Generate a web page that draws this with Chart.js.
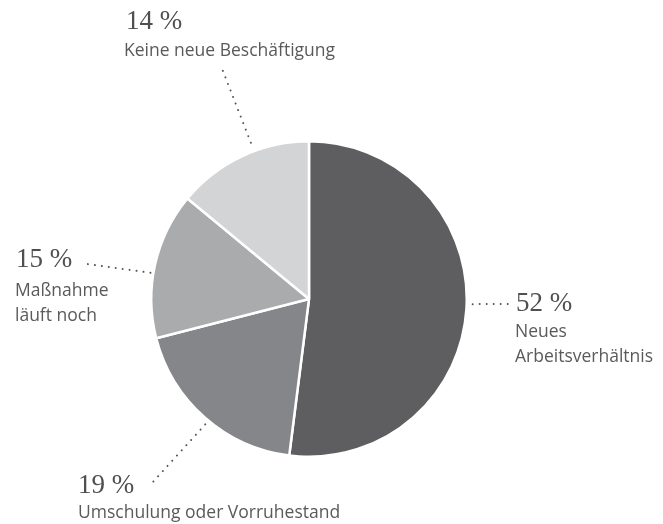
<!DOCTYPE html>
<html>
<head>
<meta charset="utf-8">
<script src="https://cdn.jsdelivr.net/npm/chart.js@4/dist/chart.umd.min.js"></script>
<style>
html,body{margin:0;padding:0;background:#fff;}
#wrap{width:663px;height:524px;position:relative;}
</style>
</head>
<body>
<div id="wrap"><canvas id="c" width="663" height="524"></canvas></div>
<script>
const categories = ["Neues Arbeitsverhältnis", "Umschulung oder Vorruhestand", "Maßnahme läuft noch", "Keine neue Beschäftigung"];
const values = [52, 19, 15, 14];
const valueLabels = ["52 %", "19 %", "15 %", "14 %"];
const labelLines = [["Neues", "Arbeitsverhältnis"], ["Umschulung oder Vorruhestand"], ["Maßnahme", "läuft noch"], ["Keine neue Beschäftigung"]];
const sliceColors = ["#5e5e60", "#858689", "#aaabad", "#d3d4d6"];

// label layout: number anchor (left, baseline), label baselines, leader end point,
// angular nudge (deg) and radial gap of the leader start
const labelLayout = [
  {nx: 516, ny: 311, lines: [337, 362], lx: 515, end: [509, 304], nudge: -1.8, gap: 6},
  {nx: 78,  ny: 493, lines: [518], lx: 78, end: [152, 483], nudge: -1.8, gap: 5},
  {nx: 16,  ny: 267, lines: [296, 321], lx: 15, end: [87, 264], nudge: -3.2, gap: 3},
  {nx: 126, ny: 29,  lines: [56], lx: 124, end: [221, 66], nudge: 4.8, gap: 9}
];

const calloutPlugin = {
  id: 'callouts',
  afterDraw(chart) {
    const ctx = chart.ctx;
    const meta = chart.getDatasetMeta(0);
    meta.data.forEach((arc, i) => {
      const p = arc.getProps(['x', 'y', 'startAngle', 'endAngle', 'outerRadius'], true);
      const L = labelLayout[i];
      const mid = (p.startAngle + p.endAngle) / 2 + L.nudge * Math.PI / 180;
      const r = p.outerRadius + L.gap;
      const sx = p.x + Math.cos(mid) * r;
      const sy = p.y + Math.sin(mid) * r;
      ctx.save();
      ctx.strokeStyle = '#555';
      ctx.lineWidth = 2;
      ctx.lineCap = 'round';
      ctx.setLineDash([0.01, 7]);
      ctx.beginPath();
      ctx.moveTo(sx, sy);
      ctx.lineTo(L.end[0], L.end[1]);
      ctx.stroke();
      ctx.restore();

      ctx.save();
      ctx.textAlign = 'left';
      ctx.textBaseline = 'alphabetic';
      ctx.fillStyle = '#4f4f4f';
      ctx.font = '27px "Liberation Serif", serif';
      ctx.fillText(valueLabels[i], L.nx, L.ny);
      ctx.fillStyle = '#5a5a5a';
      ctx.font = '17.5px "Open Sans", sans-serif';
      labelLines[i].forEach((t, k) => ctx.fillText(t, L.lx, L.lines[k]));
      ctx.restore();
    });
  }
};

new Chart(document.getElementById('c'), {
  type: 'pie',
  data: {
    labels: categories,
    datasets: [{
      data: values,
      backgroundColor: sliceColors,
      borderColor: '#ffffff',
      borderWidth: 2.5
    }]
  },
  options: {
    responsive: false,
    animation: false,
    events: [],
    layout: {padding: {top: 140, bottom: 66, left: 150, right: 195}},
    plugins: {legend: {display: false}, tooltip: {enabled: false}}
  },
  plugins: [calloutPlugin]
});
</script>
</body>
</html>
